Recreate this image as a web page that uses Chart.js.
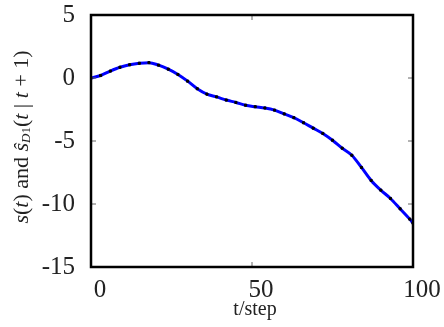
<!DOCTYPE html>
<html>
<head>
<meta charset="utf-8">
<script src="https://cdn.jsdelivr.net/npm/chart.js@4"></script>
<style>
  html, body { margin: 0; padding: 0; background: #fff; }
  #wrap { width: 444px; height: 327px; }
</style>
</head>
<body>
<div id="wrap"><canvas id="myChart" width="444" height="327"></canvas></div>
<script>
// t values (every 3 steps) and s(t)
const pasos = [0, 3, 6, 9, 12, 15, 18, 21, 24, 27, 30, 33, 36, 39, 42, 45, 48, 51, 54, 57, 60, 63, 66, 69, 72, 75, 78, 81, 84, 87, 90, 93, 96, 99, 100];
const senal = [0, 0.2, 0.55, 0.85, 1.05, 1.17, 1.22, 1.02, 0.7, 0.28, -0.25, -0.85, -1.28, -1.5, -1.75, -1.94, -2.16, -2.28, -2.38, -2.55, -2.85, -3.15, -3.55, -3.98, -4.4, -4.94, -5.57, -6.13, -7.1, -8.13, -8.9, -9.56, -10.38, -11.2, -11.52];
const estimado = senal.slice();
const ticksX = [0, 50, 100];
const ticksY = [5, 0, -5, -10, -15];

const serif = "'Liberation Serif', 'DejaVu Serif', serif";

const puntos = (ys) => pasos.map((t, i) => ({ x: t, y: ys[i] }));

// marco negro y marcas hacia adentro
const marco = {
  id: 'marco',
  afterDraw(chart) {
    const { ctx, chartArea: a, scales } = chart;
    ctx.save();
    ctx.strokeStyle = '#666';
    ctx.lineWidth = 1;
    ticksY.forEach(v => {
      const y = scales.y.getPixelForValue(v);
      ctx.beginPath();
      ctx.moveTo(a.left, y); ctx.lineTo(a.left + 5, y);
      ctx.moveTo(a.right, y); ctx.lineTo(a.right - 5, y);
      ctx.stroke();
    });
    ticksX.forEach(v => {
      const x = scales.x.getPixelForValue(v);
      ctx.beginPath();
      ctx.moveTo(x, a.bottom); ctx.lineTo(x, a.bottom - 5);
      ctx.moveTo(x, a.top); ctx.lineTo(x, a.top + 5);
      ctx.stroke();
    });
    ctx.strokeStyle = '#000';
    ctx.lineWidth = 2.5;
    ctx.strokeRect(a.left, a.top, a.right - a.left, a.bottom - a.top);

    // titulo eje x
    ctx.fillStyle = '#222';
    ctx.font = '20px ' + serif;
    ctx.textAlign = 'center';
    ctx.textBaseline = 'middle';
    ctx.fillText('t/step', (a.left + a.right) / 2 + 3, 310);

    // titulo eje y, con partes en cursiva y subindice
    const partes = [
      ['s', 'italic 22px', 0], ['(', '22px', 0], ['t', 'italic 22px', 0], [') and ', '22px', 0],
      ['ŝ', 'italic 22px', 0], ['D', 'italic 13px', 5], ['1', '13px', 5],
      ['(', '22px', 0], ['t', 'italic 22px', 0], [' | ', '22px', 0], ['t', 'italic 22px', 0], [' + 1)', '22px', 0]
    ];
    let total = 0;
    partes.forEach(p => { ctx.font = p[1] + ' ' + serif; total += ctx.measureText(p[0]).width; });
    ctx.translate(22, 137);
    ctx.rotate(-Math.PI / 2);
    ctx.textAlign = 'left';
    let x = -total / 2;
    partes.forEach(p => {
      ctx.font = p[1] + ' ' + serif;
      ctx.fillText(p[0], x, p[2]);
      x += ctx.measureText(p[0]).width;
    });
    ctx.restore();
  }
};

const ctx = document.getElementById('myChart');
const myChart = new Chart(ctx, {
  type: 'line',
  data: {
    datasets: [{
      label: 's(t)',
      data: puntos(senal),
      borderColor: '#0000ff',
      borderWidth: 3,
      pointRadius: 0,
      cubicInterpolationMode: 'monotone',
      order: 2
    }, {
      label: 'ŝ D1(t | t+1)',
      data: puntos(estimado),
      showLine: false,
      pointStyle: 'rect',
      pointRadius: 1.5,
      pointBackgroundColor: '#000',
      pointBorderColor: '#000',
      pointBorderWidth: 1,
      order: 1
    }]
  },
  options: {
    responsive: false,
    animation: false,
    layout: { padding: { top: 15, right: 31, left: 0, bottom: 0 } },
    plugins: { legend: { display: false }, tooltip: { enabled: false } },
    scales: {
      x: {
        type: 'linear',
        min: 0, max: 100,
        afterBuildTicks: s => { s.ticks = ticksX.map(v => ({ value: v })); },
        afterFit: s => { s.height = 60; s.paddingLeft = 0; s.paddingRight = 0; },
        grid: { display: false, drawTicks: false },
        border: { display: false },
        ticks: { color: '#222', padding: 8, labelOffset: 9, maxRotation: 0, font: { family: serif, size: 25 } }
      },
      y: {
        min: -15, max: 5,
        afterBuildTicks: s => { s.ticks = ticksY.map(v => ({ value: v })); },
        afterFit: s => { s.width = 91; s.paddingTop = 0; s.paddingBottom = 0; },
        grid: { display: false, drawTicks: false },
        border: { display: false },
        ticks: { color: '#222', padding: 16, font: { family: serif, size: 25 } }
      }
    }
  },
  plugins: [marco]
});
</script>
</body>
</html>
